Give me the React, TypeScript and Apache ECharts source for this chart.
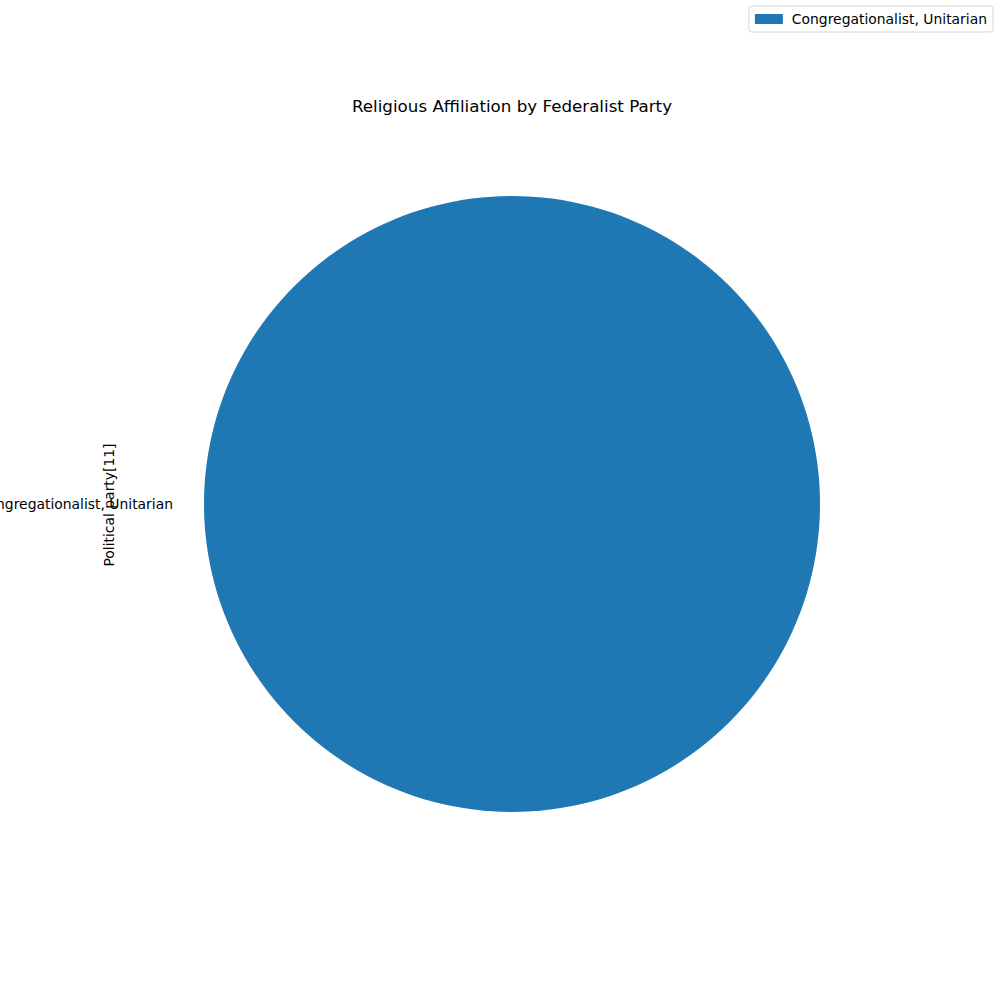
import React, { useEffect, useRef } from "react";
import * as echarts from "echarts";

const categories = ["Congregationalist, Unitarian"];
const values = [1];
const titleText = "Religious Affiliation by Federalist Party";
const yLabel = "Political party[11]";

const FONT = "DejaVu Sans, sans-serif";

export default function App() {
    const chartRef = useRef<HTMLDivElement>(null);

    useEffect(() => {
        document.body.style.margin = "0";
        if (chartRef.current === null) return;
        const chart = echarts.init(chartRef.current, undefined, { renderer: "svg" });

        const option: echarts.EChartsOption = {
            animation: false,
            backgroundColor: "#ffffff",
            title: {
                text: titleText,
                left: 507,
                top: 92,
                textAlign: "center",
                textStyle: { fontFamily: FONT, fontSize: 16.7, fontWeight: "normal", color: "#000" },
            },
            legend: {
                data: categories,
                right: 7,
                top: 6,
                orient: "vertical",
                padding: [6, 6, 6, 6],
                borderColor: "#d6d6d6",
                borderWidth: 1,
                borderRadius: 3,
                itemWidth: 28,
                itemHeight: 10,
                icon: "rect",
                textStyle: { fontFamily: FONT, fontSize: 13.9, color: "#000", padding: [0, 0, 0, 4] },
            },
            graphic: [
                {
                    type: "text",
                    x: 109,
                    y: 505,
                    rotation: Math.PI / 2,
                    style: {
                        text: yLabel,
                        fontFamily: FONT,
                        fontSize: 13.9,
                        fill: "#000",
                        align: "center",
                        verticalAlign: "middle",
                    },
                },
            ],
            series: [
                {
                    type: "pie",
                    center: [512, 504],
                    radius: 308,
                    startAngle: 0,
                    clockwise: true,
                    silent: true,
                    itemStyle: { color: "#1f77b4" },
                    label: {
                        show: true,
                        position: "outside",
                        fontFamily: FONT,
                        fontSize: 13.9,
                        color: "#000",
                        distanceToLabelLine: 0,
                        overflow: "none",
                        edgeDistance: 0,
                        bleedMargin: 0,
                    },
                    labelLine: { show: false, length: 31, length2: 0 },
                    data: categories.map((name, i) => ({ name, value: values[i] })),
                },
            ],
        };

        chart.setOption(option);
        return () => {
            chart.dispose();
        };
    }, []);

    return <div ref={chartRef} style={{ width: "1000px", height: "1000px" }} />;
}
